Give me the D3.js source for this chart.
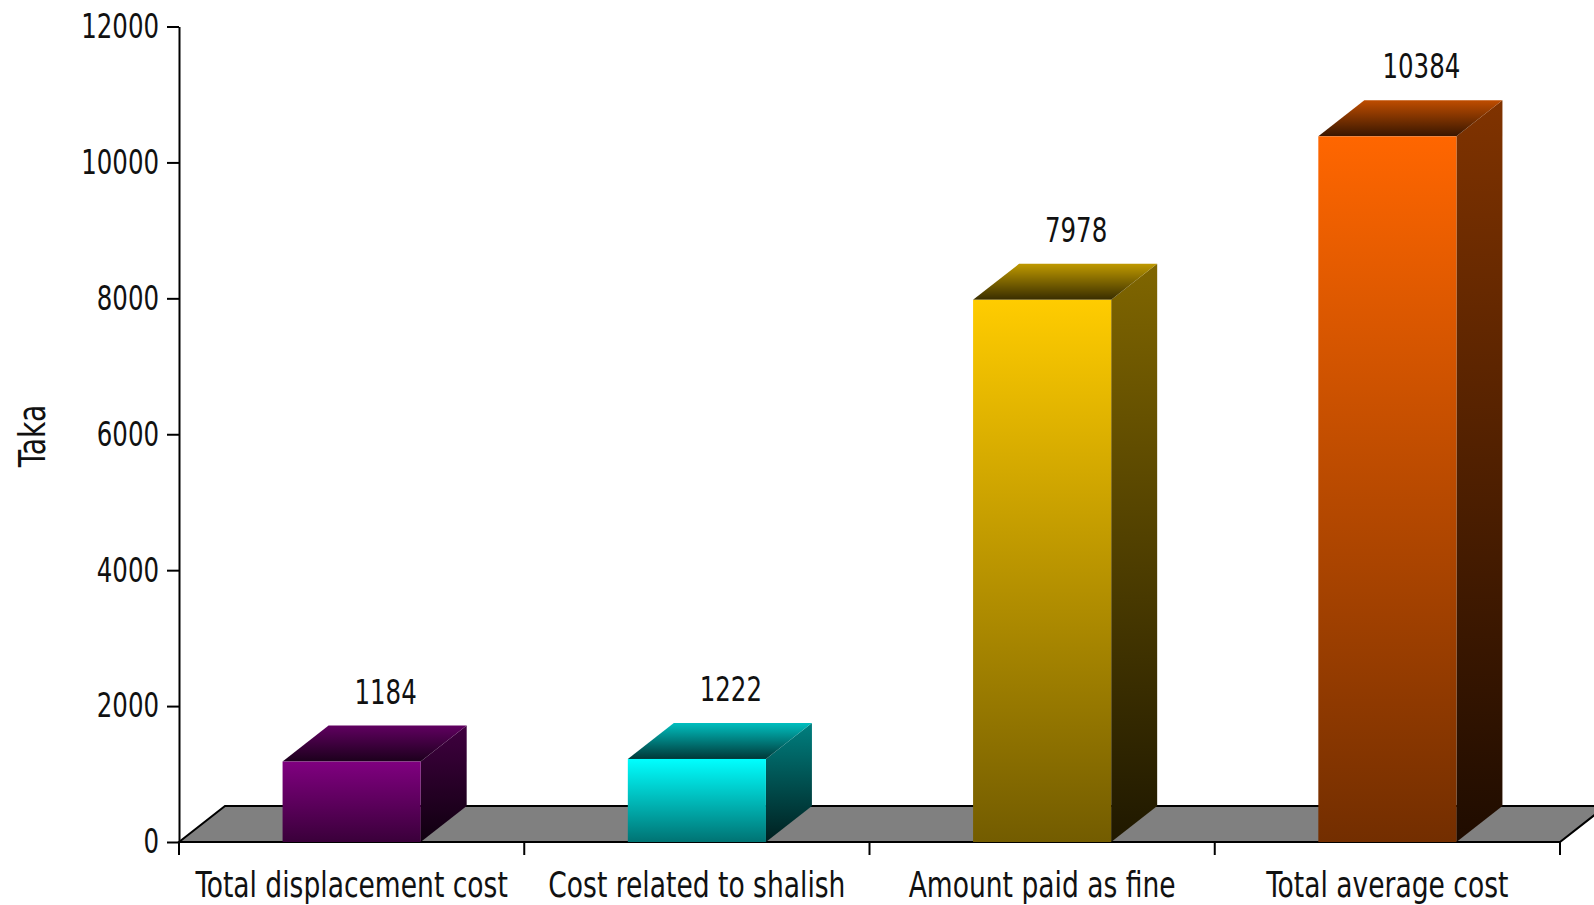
<!DOCTYPE html>
<html>
<head>
<meta charset="utf-8">
<script src="https://cdn.jsdelivr.net/npm/d3@7"></script>
<style>
  body { margin: 0; background: #fff; }
  text { font-family: "Liberation Sans Narrow", "DejaVu Sans Condensed", "DejaVu Sans", sans-serif; font-stretch: condensed; fill: #111; }
</style>
</head>
<body>
<div id="chart"></div>
<script>
// data
var categories = ["Total displacement cost", "Cost related to shalish", "Amount paid as fine", "Total average cost"];
var values = [1184, 1222, 7978, 10384];
var barColors = ["#800080", "#00ffff", "#ffcc00", "#ff6600"];
var yTicks = [0, 2000, 4000, 6000, 8000, 10000, 12000];
var yTitle = "Taka";

var W = 1594, H = 905;
var plotLeft = 179, plotRight = 1560, plotTop = 26.5, plotBottom = 842;
var depthX = 46, depthY = 36; // fake 3d offset
var squeeze = 0.8; // no narrow font installed, so squash text sideways

var svg = d3.select("#chart").append("svg")
  .attr("width", W)
  .attr("height", H);

var y = d3.scaleLinear().domain([0, 12000]).range([plotBottom, plotTop]);
var x = d3.scaleBand().domain(categories).range([plotLeft, plotRight])
  .paddingInner(0.6).paddingOuter(0.3);
var xOuter = d3.scaleBand().domain(categories).range([plotLeft, plotRight]).padding(0);

var defs = svg.append("defs");
function shade(c, k) {
  var col = d3.rgb(c);
  return d3.rgb(col.r * k, col.g * k, col.b * k).formatHex();
}
function grad(id, c1, c2) {
  var g = defs.append("linearGradient").attr("id", id)
    .attr("x1", 0).attr("y1", 0).attr("x2", 0).attr("y2", 1);
  g.append("stop").attr("offset", "0%").attr("stop-color", c1);
  g.append("stop").attr("offset", "100%").attr("stop-color", c2);
}
barColors.forEach(function(c, i) {
  grad("front" + i, c, shade(c, 0.45));
  grad("top" + i, shade(c, 0.75), shade(c, 0.22));
  grad("side" + i, shade(c, 0.5), shade(c, 0.12));
});

// floor
var y0 = y(0);
svg.append("path")
  .attr("d", "M" + plotLeft + "," + y0 + "L" + (plotLeft + depthX) + "," + (y0 - depthY) +
    "L" + (plotRight + depthX) + "," + (y0 - depthY) + "L" + plotRight + "," + y0 + "Z")
  .attr("fill", "#808080")
  .attr("stroke", "#000")
  .attr("stroke-width", 2);

// x ticks at category boundaries
var bounds = categories.map(function(d) { return xOuter(d); }).concat([plotRight]);
svg.selectAll(".xtick").data(bounds).enter().append("line")
  .attr("x1", function(d) { return d; })
  .attr("x2", function(d) { return d; })
  .attr("y1", y0)
  .attr("y2", y0 + 13)
  .attr("stroke", "#000")
  .attr("stroke-width", 2);

// bars
var bars = svg.selectAll(".bar").data(values).enter().append("g").attr("class", "bar");
bars.append("path")
  .attr("fill", function(d, i) { return "url(#side" + i + ")"; })
  .attr("d", function(d, i) {
    var x1 = x(categories[i]) + x.bandwidth(), yt = y(d);
    return "M" + x1 + "," + yt + "L" + (x1 + depthX) + "," + (yt - depthY) +
      "L" + (x1 + depthX) + "," + (y0 - depthY) + "L" + x1 + "," + y0 + "Z";
  });
bars.append("path")
  .attr("fill", function(d, i) { return "url(#top" + i + ")"; })
  .attr("d", function(d, i) {
    var x0 = x(categories[i]), x1 = x0 + x.bandwidth(), yt = y(d);
    return "M" + x0 + "," + yt + "L" + (x0 + depthX) + "," + (yt - depthY) +
      "L" + (x1 + depthX) + "," + (yt - depthY) + "L" + x1 + "," + yt + "Z";
  });
bars.append("rect")
  .attr("fill", function(d, i) { return "url(#front" + i + ")"; })
  .attr("x", function(d, i) { return x(categories[i]); })
  .attr("y", function(d) { return y(d); })
  .attr("width", x.bandwidth())
  .attr("height", function(d) { return y0 - y(d); });

// value labels
bars.append("text")
  .attr("transform", function(d, i) {
    return "translate(" + (x(categories[i]) + x.bandwidth() / 2 + 34) + "," + (y(d) - depthY - 22) + ") scale(" + squeeze + ",1)";
  })
  .attr("text-anchor", "middle")
  .style("font-size", "34px")
  .text(function(d) { return d; });

// category labels
svg.selectAll(".cat").data(categories).enter().append("text")
  .attr("transform", function(d) {
    return "translate(" + (x(d) + x.bandwidth() / 2) + ",897) scale(0.82,1)";
  })
  .attr("text-anchor", "middle")
  .style("font-size", "36px")
  .text(function(d) { return d; });

// y axis
var yAxis = svg.append("g")
  .attr("transform", "translate(" + plotLeft + ",0)")
  .call(d3.axisLeft(y).tickValues(yTicks).tickSize(12).tickSizeOuter(0).tickPadding(8).tickFormat(d3.format("d")));
yAxis.select(".domain").attr("stroke-width", 2);
yAxis.selectAll(".tick line").attr("stroke-width", 2);
yAxis.selectAll(".tick text")
  .attr("fill", "#111")
  .attr("font-family", null)
  .attr("x", -20 / squeeze)
  .attr("transform", "scale(" + squeeze + ",1)")
  .style("font-size", "34px");

svg.append("text")
  .attr("transform", "translate(32,436) rotate(-90) scale(0.85,1)")
  .attr("text-anchor", "middle")
  .attr("dy", "0.35em")
  .style("font-size", "37px")
  .text(yTitle);
</script>
</body>
</html>
